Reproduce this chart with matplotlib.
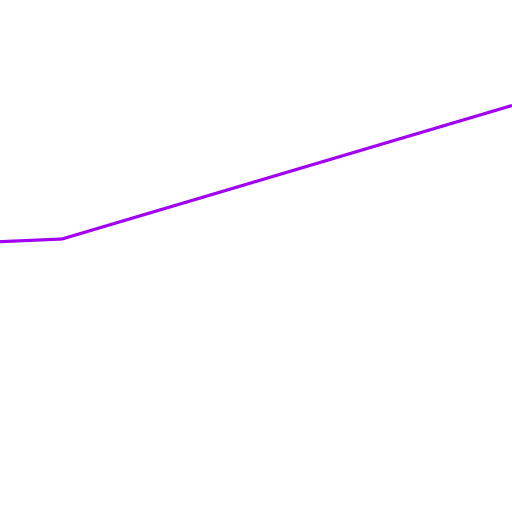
import matplotlib
matplotlib.use("Agg")
import matplotlib.pyplot as plt

x_vals = [0, 62, 512]
y_vals = [270.3, 273.0, 406.5]

fig = plt.figure(figsize=(5.12, 5.12), dpi=100)
ax = fig.add_axes([0, 0, 1, 1])
ax.plot(x_vals, y_vals, color="#a100f2", linewidth=2.3, solid_capstyle="butt")
ax.set_xlim(0, 512)
ax.set_ylim(0, 512)
ax.axis("off")
fig.savefig("out.png", dpi=100, facecolor="white")
